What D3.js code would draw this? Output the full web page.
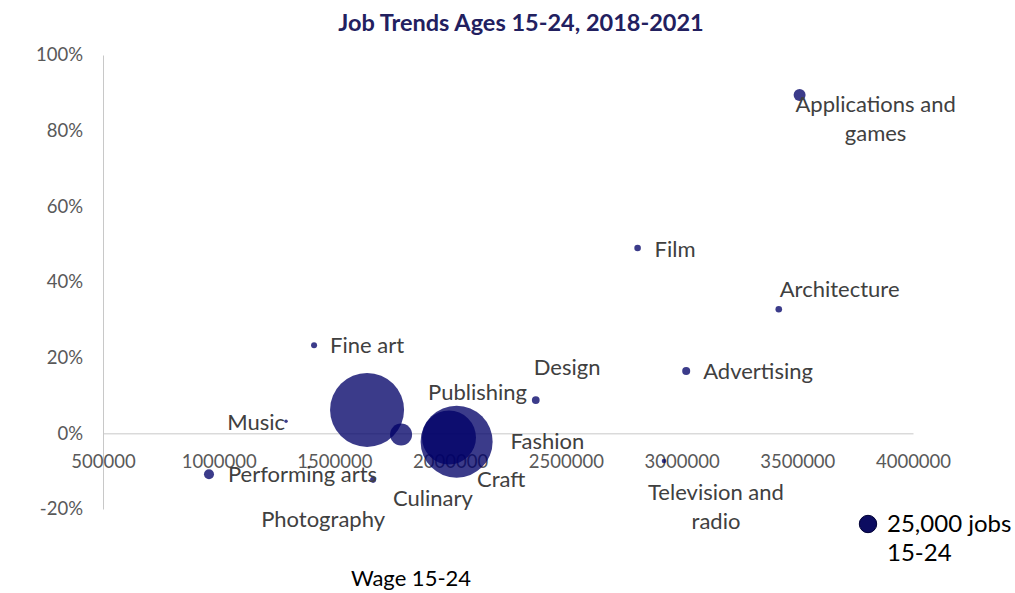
<!DOCTYPE html>
<html>
<head>
<meta charset="utf-8">
<script src="https://cdn.jsdelivr.net/npm/d3@7"></script>
<style>
  html, body { margin: 0; padding: 0; background: #fff; }
  svg { display: block; font-family: Lato, "Open Sans", sans-serif; }
</style>
</head>
<body>
<svg id="chart" width="1015" height="593"></svg>
<script>
// Creative-industry occupations
const categories = [
  "Applications and games", "Film", "Architecture", "Advertising", "Design",
  "Fine art", "Music", "Publishing", "Craft", "Culinary", "Fashion",
  "Performing arts", "Photography", "Television and radio"
];
// Wage for workers aged 15-24
const wages = [
  3510000, 2810000, 3420000, 3020000, 2370000,
  1412000, 1291000, 1641000, 1788000, 1995000, 2028000,
  958000, 1667000, 2924000
];
// Change in jobs, 2018-2021
const jobGrowth = [
  0.894, 0.490, 0.328, 0.165, 0.088,
  0.233, 0.032, 0.062, -0.003, -0.011, -0.022,
  -0.108, -0.123, -0.073
];
// Jobs held by workers aged 15-24
const jobs = [
  11900, 3600, 3600, 5300, 5000,
  3000, 950, 452000, 40000, 241000, 428000,
  8300, 3000, 1750
];
const xTicks = [500000, 1000000, 1500000, 2000000, 2500000, 3000000, 3500000, 4000000];
const yTicks = [-0.2, 0, 0.2, 0.4, 0.6, 0.8, 1.0];
const legendJobs = 25000;

// Label placement relative to each bubble centre: [dx, dy, anchor, lines]
const labelPlacement = {
  "Applications and games": [76, 17, "middle", ["Applications and", "games"]],
  "Film": [17, 9, "start"],
  "Architecture": [1, -12, "start"],
  "Advertising": [17, 8, "start"],
  "Design": [-2, -25, "start"],
  "Fine art": [16, 8, "start"],
  "Music": [-1, 9, "end"],
  "Publishing": [61, -10, "start"],
  "Craft": [76, 53, "start"],
  "Culinary": [-16, 69, "middle"],
  "Fashion": [54, 7, "start"],
  "Performing arts": [19, 8, "start"],
  "Photography": [-50, 47, "middle"],
  "Television and radio": [52, 39, "middle", ["Television and", "radio"]]
};

const data = categories.map((c, i) => ({
  name: c, wage: wages[i], growth: jobGrowth[i], jobs: jobs[i]
}));

const svg = d3.select("#chart");

const x = d3.scaleLinear().domain([500000, 4000000]).range([103, 913]);
const y = d3.scaleLinear().domain([-0.2, 1.0]).range([509, 55]);
const r = d3.scaleSqrt().domain([0, d3.max(jobs)]).range([0, 37]);

// Title
svg.append("text")
  .attr("x", 521).attr("y", 31)
  .attr("text-anchor", "middle")
  .attr("font-weight", 700)
  .attr("font-size", 23.5)
  .attr("fill", "#22205f")
  .text("Job Trends Ages 15-24, 2018-2021");

// Y axis (percent labels use a plain hyphen for negatives)
const pct = d3.format(".0%");
const yAxis = svg.append("g")
  .attr("transform", `translate(${x(500000)},0)`)
  .call(d3.axisLeft(y).tickValues(yTicks)
    .tickFormat(v => pct(v).replace("\u2212", "-"))
    .tickSize(0).tickPadding(20));
yAxis.select(".domain").attr("stroke", "#c8c8c8");
yAxis.selectAll("text").attr("font-size", 18.5).attr("fill", "#595959")
  .attr("font-family", "Lato, sans-serif");

// X axis, crossing at 0%
const xAxis = svg.append("g")
  .attr("transform", `translate(0,${y(0)})`)
  .call(d3.axisBottom(x).tickValues(xTicks).tickFormat(d3.format("d"))
    .tickSize(0).tickPadding(22));
xAxis.select(".domain").attr("stroke", "#c8c8c8");
xAxis.selectAll("text").attr("font-size", 18.5).attr("fill", "#595959")
  .attr("font-family", "Lato, sans-serif");

// Bubbles
svg.append("g").selectAll("circle")
  .data(data)
  .join("circle")
  .attr("cx", d => x(d.wage))
  .attr("cy", d => y(d.growth))
  .attr("r", d => r(d.jobs))
  .attr("fill", "#000067")
  .attr("fill-opacity", 0.77);

// Bubble labels
const labels = svg.append("g")
  .attr("font-size", 22)
  .attr("fill", "#404040");
data.forEach(d => {
  const [dx, dy, anchor, lines] = labelPlacement[d.name];
  const t = labels.append("text")
    .attr("x", x(d.wage) + dx)
    .attr("y", y(d.growth) + dy)
    .attr("text-anchor", anchor);
  (lines || [d.name]).forEach((ln, i) => {
    t.append("tspan")
      .attr("x", x(d.wage) + dx)
      .attr("dy", i === 0 ? 0 : 29)
      .text(ln);
  });
});

// X axis title
svg.append("text")
  .attr("x", 411).attr("y", 586)
  .attr("text-anchor", "middle")
  .attr("font-size", 22)
  .attr("fill", "#000")
  .text("Wage 15-24");

// Bubble size key
const key = svg.append("g").attr("transform", "translate(868,524)");
key.append("circle")
  .attr("r", r(legendJobs))
  .attr("fill", "#0c0c60")
  .attr("stroke", "#000035")
  .attr("stroke-width", 1);
const keyText = key.append("text")
  .attr("x", 19).attr("y", 8)
  .attr("font-size", 24)
  .attr("fill", "#000");
keyText.append("tspan").attr("x", 19).text("25,000 jobs");
keyText.append("tspan").attr("x", 19).attr("dy", 29).text("15-24");
</script>
</body>
</html>
